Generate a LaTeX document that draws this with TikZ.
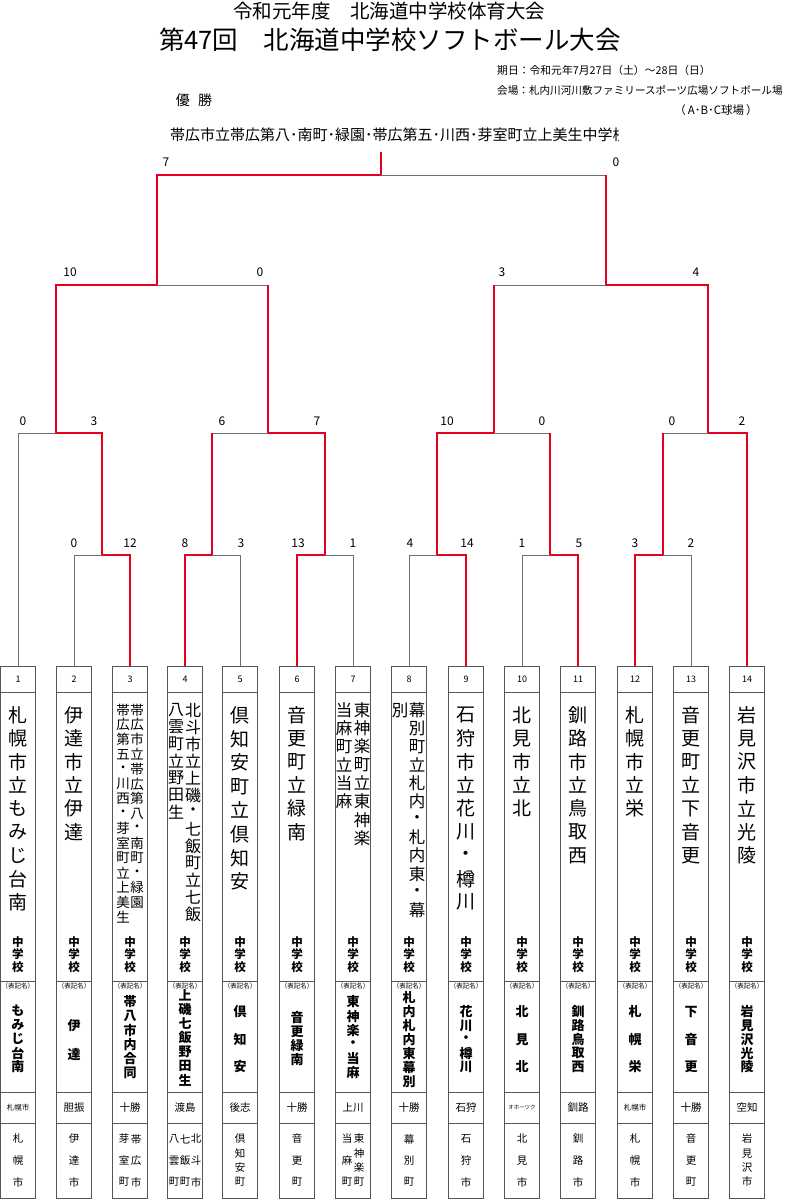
\documentclass[tikz,border=0pt]{standalone}
\usepackage{fontspec}
\setmainfont{Noto Sans CJK JP}
\definecolor{lgray}{HTML}{707070}
\definecolor{bgray}{HTML}{555555}
\definecolor{wred}{HTML}{E60020}
\tikzset{
  gl/.style={draw=lgray, line width=1pt},
  rl/.style={draw=wred, line width=1.8pt},
  cell/.style={draw=bgray, line width=0.8pt, minimum width=35pt, inner sep=0pt, outer sep=0pt},
  score/.style={font=\fontsize{12}{12}\selectfont, inner sep=0pt},
  vchar/.style={inner sep=0pt},
  big/.style={font=\fontsize{19}{19}\selectfont},
  mthree/.style={font=\fontsize{13.5}{14}\selectfont},
  mfour/.style={font=\fontsize{16}{16}\selectfont},
  mseven/.style={font=\fontsize{16.5}{17}\selectfont},
  gakko/.style={font=\fontsize{11.5}{12}\selectfont\bfseries},
  abb/.style={font=\fontsize{13}{13}\selectfont\bfseries},
  city/.style={font=\fontsize{10.5}{11}\selectfont},
  reg/.style={font=\fontsize{10.5}{11}\selectfont, inner sep=0pt},
  regs/.style={font=\fontsize{7.5}{8}\selectfont, inner sep=0pt},
}
\newcommand{\vcol}[6][]{\foreach \c [count=\k] in {#6}{\node[vchar,#1] (#2-\k) at (#3,{#4+(\k-1)*#5}) {\c};}}
\begin{document}
\begin{tikzpicture}[x=1pt,y=-1pt]
\useasboundingbox[fill=white] (0,0) rectangle (785,1200);

% header
\node[font=\fontsize{19.5}{20}\selectfont, inner sep=0] (t1) at (389,11) {令和元年度　北海道中学校体育大会};
\node[font=\fontsize{25.5}{26}\selectfont, inner sep=0] (t2) at (390,40) {第47回　北海道中学校ソフトボール大会};
\node[anchor=west, font=\fontsize{10.8}{11}\selectfont, inner sep=0] (date) at (497,70) {期日：令和元年7月27日（土）～28日（日）};
\node[anchor=west, font=\fontsize{10.6}{11}\selectfont, inner sep=0] (venue) at (497,90) {会場：札内川河川敷ファミリースポーツ広場ソフトボール場};
\node[font=\fontsize{11.5}{12}\selectfont, inner sep=0] (abc) at (716,110) {（\,A･B･C球場\,）};
\node[font=\fontsize{14}{14}\selectfont, inner sep=0] (yusho) at (194,100) {優\hspace{0.6em}勝};
\begin{scope}
\clip (160,120) rectangle (618,152);
\node[anchor=west, inner sep=0, font=\fontsize{15}{15}\selectfont] (champ) at (170,135) {帯広市立帯広第八･南町･緑園･帯広第五･川西･芽室町立上美生中学校};
\end{scope}

% team cells
\foreach \i/\x in {1/18,2/74,3/130,4/185,5/240,6/297,7/353,8/409,9/466,10/522,11/578,12/635,13/691,14/747}{
  \node[cell, minimum height=26pt, font=\fontsize{9}{9}\selectfont] (n\i) at (\x,679) {\i};
  \node[cell, minimum height=289pt] (nm\i) at (\x,836.5) {};
  \node[cell, minimum height=111pt] (ab\i) at (\x,1036.5) {};
  \node[cell, minimum height=31pt] (rg\i) at (\x,1107.5) {};
  \node[cell, minimum height=75pt] (ct\i) at (\x,1160.5) {};
  \vcol[gakko]{gk\i}{\x}{942}{12.5}{中,学,校}
  \node[font=\fontsize{6.5}{6.5}\selectfont, inner sep=0] (hk\i) at (\x,986.5) {（表記名）};
}

% team names
\vcol[big]{na1}{18}{715}{23.4}{札,幌,市,立,も,み,じ,台,南}
\vcol[big]{na2}{74}{715}{23.4}{伊,達,市,立,伊,達}
\vcol[mthree]{na3}{137}{710}{14.8}{帯,広,市,立,帯,広,第,八,・,南,町,・,緑,園}
\vcol[mthree]{nb3}{123}{710}{14.8}{帯,広,第,五,・,川,西,・,芽,室,町,立,上,美,生}
\vcol[mfour]{na4}{193}{710}{17}{北,斗,市,立,上,磯,・,七,飯,町,立,七,飯}
\vcol[mfour]{nb4}{176}{710}{17}{八,雲,町,立,野,田,生}
\vcol[big]{na5}{240}{715}{23.8}{倶,知,安,町,立,倶,知,安}
\vcol[big]{na6}{297}{715}{23.4}{音,更,町,立,緑,南}
\vcol[mseven]{na7}{362}{710}{18.3}{東,神,楽,町,立,東,神,楽}
\vcol[mseven]{nb7}{344}{710}{18.3}{当,麻,町,立,当,麻}
\vcol[mseven]{na8}{417}{710}{18.2}{幕,別,町,立,札,内,・,札,内,東,・,幕}
\vcol[mseven]{nb8}{400}{710}{18.2}{別}
\vcol[big]{na9}{466}{715}{23.4}{石,狩,市,立,花,川,・,樽,川}
\vcol[big]{na10}{522}{715}{23.4}{北,見,市,立,北}
\vcol[big]{na11}{578}{715}{23.4}{釧,路,市,立,鳥,取,西}
\vcol[big]{na12}{635}{715}{23.4}{札,幌,市,立,栄}
\vcol[big]{na13}{691}{715}{23.4}{音,更,町,立,下,音,更}
\vcol[big]{na14}{747}{715}{23.4}{岩,見,沢,市,立,光,陵}

% short names
\vcol[abb]{sa1}{18}{1011}{14}{も,み,じ,台,南}
\vcol[abb]{sa2}{74}{1026}{28}{伊,達}
\vcol[abb]{sa3}{130}{1002}{14.2}{帯,八,市,内,合,同}
\vcol[abb]{sa4}{185}{995}{14.2}{上,磯,七,飯,野,田,生}
\vcol[abb]{sa5}{240}{1012}{27.5}{倶,知,安}
\vcol[abb]{sa6}{297}{1018}{14}{音,更,緑,南}
\vcol[abb]{sa7}{353}{1002}{14.2}{東,神,楽,・,当,麻}
\vcol[abb]{sa8}{409}{998}{14}{札,内,札,内,東,幕,別}
\vcol[abb]{sa9}{466}{1012}{13.75}{花,川,・,樽,川}
\vcol[abb]{sa10}{522}{1012}{27.5}{北,見,北}
\vcol[abb]{sa11}{578}{1012}{13.75}{釧,路,鳥,取,西}
\vcol[abb]{sa12}{635}{1012}{27.5}{札,幌,栄}
\vcol[abb]{sa13}{691}{1012}{27.5}{下,音,更}
\vcol[abb]{sa14}{747}{1012}{13.75}{岩,見,沢,光,陵}

% regions
\node[regs] (rl1) at (rg1) {札幌市};
\node[reg] (rl2) at (rg2) {胆振};
\node[reg] (rl3) at (rg3) {十勝};
\node[reg] (rl4) at (rg4) {渡島};
\node[reg] (rl5) at (rg5) {後志};
\node[reg] (rl6) at (rg6) {十勝};
\node[reg] (rl7) at (rg7) {上川};
\node[reg] (rl8) at (rg8) {十勝};
\node[reg] (rl9) at (rg9) {石狩};
\node[font=\fontsize{5.5}{6}\selectfont, inner sep=0] (rl10) at (rg10) {オホーツク};
\node[reg] (rl11) at (rg11) {釧路};
\node[regs] (rl12) at (rg12) {札幌市};
\node[reg] (rl13) at (rg13) {十勝};
\node[reg] (rl14) at (rg14) {空知};

% cities
\vcol[city]{ca1}{18}{1139}{21.5}{札,幌,市}
\vcol[city]{ca2}{74}{1139}{21.5}{伊,達,市}
\vcol[city]{ca3}{136}{1139}{21.5}{帯,広,市}
\vcol[city]{cb3}{124}{1139}{21.5}{芽,室,町}
\vcol[city]{ca4}{196}{1139}{21.5}{北,斗,市}
\vcol[city]{cb4}{185}{1139}{21.5}{七,飯,町}
\vcol[city]{cc4}{174}{1139}{21.5}{八,雲,町}
\vcol[city]{ca5}{240}{1139}{14.3}{倶,知,安,町}
\vcol[city]{ca6}{297}{1139}{21.5}{音,更,町}
\vcol[city]{ca7}{359}{1139}{14.3}{東,神,楽,町}
\vcol[city]{cb7}{347}{1139}{21.5}{当,麻,町}
\vcol[city]{ca8}{409}{1139}{21.5}{幕,別,町}
\vcol[city]{ca9}{466}{1139}{21.5}{石,狩,市}
\vcol[city]{ca10}{522}{1139}{21.5}{北,見,市}
\vcol[city]{ca11}{578}{1139}{21.5}{釧,路,市}
\vcol[city]{ca12}{635}{1139}{21.5}{札,幌,市}
\vcol[city]{ca13}{691}{1139}{21.5}{音,更,町}
\vcol[city]{ca14}{747}{1139}{14.3}{岩,見,沢,市}

% bracket junctions
\coordinate (m23) at (102,555);
\coordinate (m45) at (212,555);
\coordinate (m67) at (325,555);
\coordinate (m89) at (437,555);
\coordinate (m1011) at (550,555);
\coordinate (m1213) at (663,555);
\coordinate (a) at (56,433);
\coordinate (b) at (268,433);
\coordinate (c) at (494,433);
\coordinate (d) at (708,433);
\coordinate (s1) at (157,285);
\coordinate (s2) at (606,285);
\coordinate (f) at (381,175);
\coordinate (ch) at (381,152);

% losing lines
\draw[gl] (n1.north) |- (a);
\draw[gl] (n2.north) |- (m23);
\draw[gl] (n5.north) |- (m45);
\draw[gl] (n7.north) |- (m67);
\draw[gl] (n8.north) |- (m89);
\draw[gl] (n10.north) |- (m1011);
\draw[gl] (n13.north) |- (m1213);
\draw[gl] (m45 |- b) -- (b);
\draw[gl] (m1011 |- c) -- (c);
\draw[gl] (m1213 |- d) -- (d);
\draw[gl] (b |- s1) -- (s1);
\draw[gl] (c |- s2) -- (s2);
\draw[gl] (s2 |- f) -- (f);

% winning lines
\draw[rl] (n3.north) |- (m23);
\draw[rl] (n4.north) |- (m45);
\draw[rl] (n6.north) |- (m67);
\draw[rl] (n9.north) |- (m89);
\draw[rl] (n11.north) |- (m1011);
\draw[rl] (n12.north) |- (m1213);
\draw[rl] (n14.north) |- (d);
\draw[rl] (m23) |- (a);
\draw[rl] (m45) -- (m45 |- b);
\draw[rl] (m67) |- (b);
\draw[rl] (m89) |- (c);
\draw[rl] (m1011) -- (m1011 |- c);
\draw[rl] (m1213) -- (m1213 |- d);
\draw[rl] (a) |- (s1);
\draw[rl] (b) -- (b |- s1);
\draw[rl] (c) -- (c |- s2);
\draw[rl] (d) |- (s2);
\draw[rl] (s1) |- (f);
\draw[rl] (s2) -- (s2 |- f);
\draw[rl] (f) -- (ch);

% scores
\node[score] (f1) at (166,162) {7};
\node[score] (f2) at (616,162) {0};
\node[score] (sf1) at (70,272) {10};
\node[score] (sf2) at (260,272) {0};
\node[score] (sf3) at (502,272) {3};
\node[score] (sf4) at (696,272) {4};
\node[score] (q1) at (23,421) {0};
\node[score] (q2) at (94,421) {3};
\node[score] (q3) at (222,421) {6};
\node[score] (q4) at (317,421) {7};
\node[score] (q5) at (447,421) {10};
\node[score] (q6) at (542,421) {0};
\node[score] (q7) at (672,421) {0};
\node[score] (q8) at (742,421) {2};
\node[score] (p1) at (74,543) {0};
\node[score] (p2) at (130,543) {12};
\node[score] (p3) at (185,543) {8};
\node[score] (p4) at (241,543) {3};
\node[score] (p5) at (298,543) {13};
\node[score] (p6) at (353,543) {1};
\node[score] (p7) at (410,543) {4};
\node[score] (p8) at (467,543) {14};
\node[score] (p9) at (522,543) {1};
\node[score] (p10) at (579,543) {5};
\node[score] (p11) at (635,543) {3};
\node[score] (p12) at (691,543) {2};
\end{tikzpicture}
\end{document}
